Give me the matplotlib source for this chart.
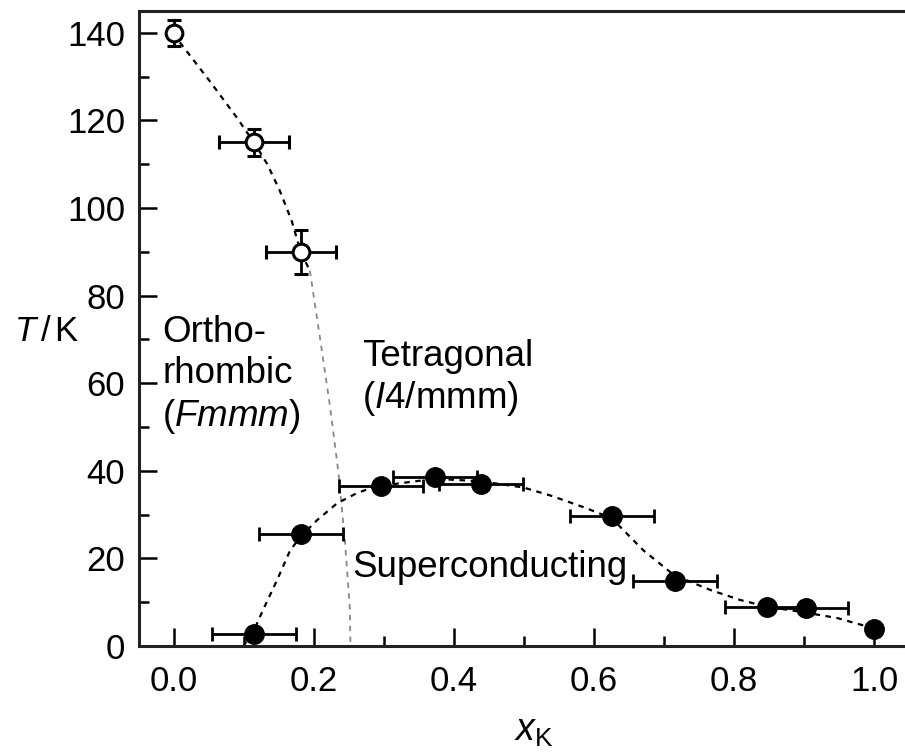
import matplotlib
matplotlib.use("Agg")
import matplotlib.pyplot as plt
from matplotlib.ticker import MultipleLocator

plt.rcParams['font.family'] = ['Liberation Sans', 'DejaVu Sans']
plt.rcParams['mathtext.fontset'] = 'custom'
plt.rcParams['mathtext.rm'] = 'Liberation Sans'
plt.rcParams['mathtext.it'] = 'Liberation Sans:italic'

# Structural transition (open circles)
ortho_x = [0.0, 0.114, 0.181]
ortho_T = [140.0, 115.0, 90.0]
ortho_xerr = [0.0, 0.05, 0.05]
ortho_Terr = [3.0, 3.0, 5.0]

# Superconducting Tc (filled circles)
sc_x = [0.114, 0.181, 0.296, 0.373, 0.439, 0.625, 0.715, 0.847, 0.903, 1.0]
sc_T = [2.7, 25.5, 36.5, 38.5, 36.9, 29.8, 14.8, 9.0, 8.6, 4.0]
sc_xerr = [0.06, 0.06, 0.06, 0.06, 0.06, 0.06, 0.06, 0.06, 0.06, 0.0]

# Guide lines
guide1_x = [0.0, 0.009, 0.051, 0.090, 0.114, 0.133, 0.151, 0.168, 0.181, 0.194]
guide1_T = [140.0, 137.7, 129.0, 120.6, 115.0, 110.1, 104.0, 97.1, 90.0, 85.7]
guide1b_x = [0.194, 0.209, 0.223, 0.235, 0.244, 0.251, 0.252]
guide1b_T = [85.7, 69.8, 54.5, 39.4, 24.2, 8.9, 0.0]
guide2_x = [0.099, 0.114, 0.127, 0.147, 0.166, 0.181, 0.204, 0.233, 0.261, 0.280,
            0.296, 0.373, 0.439, 0.499, 0.537, 0.585, 0.625, 0.670, 0.714, 0.766,
            0.809, 0.847, 0.903, 0.947, 1.0]
guide2_T = [0.0, 3.5, 8.2, 15.0, 21.9, 25.0, 28.7, 32.6, 34.9, 36.0,
            36.6, 38.2, 37.6, 36.2, 34.4, 31.7, 29.2, 21.9, 16.2, 12.8,
            10.5, 9.0, 7.6, 6.4, 4.0]

labels = {
    'ortho': "Ortho-\nrhombic\n($\\mathit{Fmmm}$)",
    'tetra': "Tetragonal\n($\\mathit{I}$4/mmm)",
    'sc': "Superconducting",
}

fig = plt.figure(figsize=(9.05, 7.54), dpi=100)
ax = fig.add_axes([0.1536, 0.1432, 0.8464, 0.8422])

ax.plot(guide1_x, guide1_T, ls=(0, (2.5, 2.5)), color='black', lw=1.6, zorder=1)
ax.plot(guide1b_x, guide1b_T, ls=(0, (3, 3)), color='#888888', lw=1.3, zorder=1)
ax.plot(guide2_x, guide2_T, ls=(0, (2.5, 2.5)), color='black', lw=1.6, zorder=1)

ax.errorbar(ortho_x, ortho_T, xerr=ortho_xerr, yerr=ortho_Terr, fmt='o',
            mfc='white', mec='black', mew=2.2, ms=12, ecolor='black',
            elinewidth=2, capsize=5, capthick=2, zorder=3)
ax.errorbar(sc_x, sc_T, xerr=sc_xerr, fmt='o', mfc='black', mec='black',
            ms=14, ecolor='black', elinewidth=2, capsize=5, capthick=2, zorder=3)

ax.set_xlim(-0.05, 1.044)
ax.set_ylim(0, 145)
ax.xaxis.set_major_locator(MultipleLocator(0.2))
ax.xaxis.set_minor_locator(MultipleLocator(0.1))
ax.yaxis.set_major_locator(MultipleLocator(20))
ax.yaxis.set_minor_locator(MultipleLocator(10))
ax.xaxis.set_major_formatter(plt.FuncFormatter(lambda v, p: f"{v:.1f}"))
ax.tick_params(which='both', direction='in', width=1.8, labelsize=25, colors='black')
ax.tick_params(which='major', length=13)
ax.tick_params(which='minor', length=7)
ax.tick_params(axis='x', pad=14)
ax.tick_params(axis='y', pad=10)
ax.spines['right'].set_visible(False)
for s in ['left', 'bottom', 'top']:
    ax.spines[s].set_linewidth(2.2)
    ax.spines[s].set_color('#222222')

ax.text(-0.017, 75.5, labels['ortho'], fontsize=26.5, va='top', ha='left', linespacing=1.2)
ax.text(0.268, 70, labels['tetra'], fontsize=26.5, va='top', ha='left', linespacing=1.15)
ax.text(0.255, 18, labels['sc'], fontsize=26.5, va='center', ha='left')

fig.text(0.015, 0.56, "$\\mathit{T\\,/}\\,$K", fontsize=25, ha='left', va='center')
fig.text(0.59, 0.03, "$\\mathit{x}_{\\mathrm{K}}$", fontsize=27, ha='center', va='center')

fig.savefig("out.png", dpi=100, facecolor='white')
